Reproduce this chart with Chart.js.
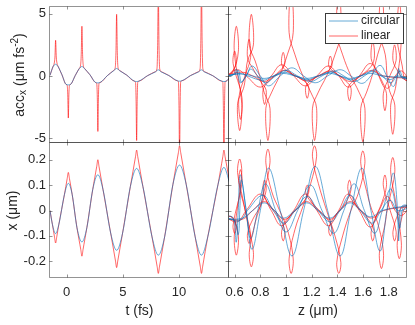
<!DOCTYPE html>
<html>
<head>
<meta charset="utf-8">
<script src="https://cdn.jsdelivr.net/npm/chart.js@4.4.1/dist/chart.umd.min.js"></script>
<style>
  html, body { margin: 0; padding: 0; background: #fff; }
  #wrap { position: relative; width: 415px; height: 325px; }
  #wrap canvas { position: absolute; left: 0; top: 0; }
</style>
</head>
<body>
<div id="wrap">
  <canvas id="accTime" width="415" height="325"></canvas>
  <canvas id="posTime" width="415" height="325"></canvas>
  <canvas id="accZ" width="415" height="325"></canvas>
  <canvas id="posZ" width="415" height="325"></canvas>
</div>
<script>
// ---- tick values ----
const tTicks = [0, 5, 10];
const zTicks = [0.6, 0.8, 1, 1.2, 1.4, 1.6, 1.8];
const accTicks = [-5, 0, 5];
const posTicks = [-0.2, -0.1, 0, 0.1, 0.2];
const legendNames = ['circular', 'linear'];

// ---- time traces [t (fs), value] ----
const posTimeCirc = [
  [-1.48, 0.000], [-1.27, -0.054], [-0.98, -0.091], [-0.69, -0.054],
  [-0.19, 0.064], [0.15, 0.107], [0.49, 0.064],
  [0.92, -0.068], [1.36, -0.124], [1.80, -0.068],
  [2.32, 0.082], [2.78, 0.141], [3.24, 0.082],
  [3.92, -0.089], [4.45, -0.157], [4.98, -0.089],
  [5.67, 0.094], [6.23, 0.166], [6.79, 0.094],
  [7.60, -0.104], [8.16, -0.176], [8.72, -0.104],
  [9.46, 0.103], [10.05, 0.179], [10.64, 0.103],
  [11.44, -0.104], [12.00, -0.176], [12.56, -0.104],
  [13.47, 0.102], [14.00, 0.170], [14.50, 0.110]
];
const posTimeLin = [
  [-1.48, 0.000], [-1.27, -0.054], [-1.08, -0.104], [-0.98, -0.128], [-0.88, -0.104], [-0.69, -0.054],
  [-0.19, 0.064], [0.05, 0.126], [0.15, 0.150], [0.25, 0.126], [0.49, 0.064],
  [0.92, -0.068], [1.26, -0.154], [1.36, -0.180], [1.46, -0.154], [1.80, -0.068],
  [2.32, 0.082], [2.68, 0.174], [2.78, 0.200], [2.88, 0.174], [3.24, 0.082],
  [3.92, -0.089], [4.35, -0.199], [4.45, -0.225], [4.55, -0.199], [4.98, -0.089],
  [5.67, 0.094], [6.13, 0.212], [6.23, 0.238], [6.33, 0.212], [6.79, 0.094],
  [7.60, -0.104], [8.06, -0.222], [8.16, -0.248], [8.26, -0.222], [8.72, -0.104],
  [9.46, 0.103], [9.95, 0.229], [10.05, 0.255], [10.15, 0.229], [10.64, 0.103],
  [11.44, -0.104], [11.90, -0.222], [12.00, -0.248], [12.10, -0.222], [12.56, -0.104],
  [13.47, 0.102], [13.90, 0.212], [14.00, 0.238], [14.10, 0.212], [14.50, 0.115]
];
const accTimeCirc = [
  [-1.48, 0.05], [-1.22, 0.72], [-0.98, 0.94], [-0.74, 0.72], [-0.42, 0.10],
  [-0.05, -0.68], [0.15, -0.72], [0.35, -0.68],
  [0.76, 0.02], [1.12, 0.58], [1.36, 0.76], [1.60, 0.58],
  [2.07, 0.10], [2.58, -0.53], [2.78, -0.56], [2.98, -0.53],
  [3.62, 0.02], [4.20, 0.43], [4.45, 0.60], [4.70, 0.43],
  [5.34, 0.07], [6.03, -0.42], [6.23, -0.45], [6.43, -0.42],
  [7.20, 0.02], [7.91, 0.33], [8.16, 0.49], [8.41, 0.33],
  [9.10, 0.03], [9.85, -0.39], [10.05, -0.42], [10.25, -0.39],
  [11.03, 0.03], [11.75, 0.33], [12.00, 0.49], [12.25, 0.33],
  [13.00, 0.02], [13.80, -0.42], [14.00, -0.45], [14.20, -0.42], [14.50, -0.15]
];
const accTimeLin = [
  [-1.48, 0.05], [-1.22, 0.74], [-1.10, 1.04], [-1.04, 1.52], [-0.98, 2.87], [-0.92, 1.52], [-0.86, 1.04], [-0.74, 0.74], [-0.42, 0.10],
  [-0.05, -0.68], [0.05, -0.77], [0.10, -1.52], [0.15, -3.39], [0.20, -1.52], [0.25, -0.77], [0.35, -0.68],
  [0.76, 0.02], [1.12, 0.60], [1.24, 0.86], [1.30, 1.73], [1.36, 4.00], [1.42, 1.73], [1.48, 0.86], [1.60, 0.60],
  [2.07, 0.10], [2.58, -0.53], [2.68, -0.61], [2.73, -1.73], [2.78, -4.47], [2.83, -1.73], [2.88, -0.61], [2.98, -0.53],
  [3.62, 0.02], [4.20, 0.45], [4.33, 0.70], [4.39, 1.91], [4.45, 4.96], [4.51, 1.91], [4.57, 0.70], [4.70, 0.45],
  [5.34, 0.07], [6.03, -0.42], [6.13, -0.50], [6.18, -1.88], [6.23, -5.20], [6.28, -1.88], [6.33, -0.50], [6.43, -0.42],
  [7.20, 0.02], [7.91, 0.35], [8.04, 0.59], [8.10, 2.44], [8.16, 7.00], [8.22, 2.44], [8.28, 0.59], [8.41, 0.35],
  [9.10, 0.03], [9.85, -0.39], [9.95, -0.47], [10.00, -2.40], [10.05, -7.00], [10.10, -2.40], [10.15, -0.47], [10.25, -0.39],
  [11.03, 0.03], [11.75, 0.35], [11.88, 0.59], [11.94, 2.60], [12.00, 7.50], [12.06, 2.60], [12.12, 0.59], [12.25, 0.35],
  [13.00, 0.02], [13.80, -0.42], [13.90, -0.50], [13.95, -2.60], [14.00, -7.50], [14.05, -2.60], [14.10, -0.50], [14.20, -0.42], [14.50, -0.15]
];

// ---- trajectories [z (um), x (um), acc_x] ----
const circA = [
  [0.540, -0.020, 0.00], [0.590, -0.030, 0.10], [0.612, -0.125, 0.55], [0.628, 0.000, 0.00], [0.644, 0.141, -0.55],
  [0.690, 0.000, 0.00], [0.735, -0.153, 0.80], [0.800, 0.000, 0.00], [0.864, 0.167, -0.80],
  [0.955, 0.000, 0.00], [1.046, -0.179, 0.65], [1.137, 0.000, 0.00], [1.227, 0.174, -0.55],
  [1.324, 0.000, 0.00], [1.421, -0.179, 0.50], [1.505, 0.000, 0.00], [1.590, 0.167, -0.60],
  [1.661, 0.000, 0.00], [1.732, -0.160, 0.85], [1.785, 0.000, 0.00], [1.835, 0.148, -0.85],
  [1.866, 0.020, 0.00], [1.877, -0.120, 0.60], [1.888, 0.000, 0.10], [1.910, 0.020, -0.20], [1.955, 0.020, -0.25]
];
const circB = [
  [0.540, -0.030, 0.00], [0.600, -0.040, 0.15], [0.628, -0.095, 0.45], [0.640, 0.000, 0.00], [0.652, 0.120, -0.50],
  [0.690, 0.000, 0.00], [0.725, -0.110, 0.55], [0.780, 0.000, 0.00], [0.840, 0.105, -0.55],
  [0.920, 0.000, 0.00], [1.000, -0.085, 0.45], [1.090, 0.000, 0.00], [1.190, 0.100, -0.45],
  [1.280, 0.000, 0.00], [1.370, -0.090, 0.40], [1.450, 0.000, 0.00], [1.530, 0.105, -0.45],
  [1.610, 0.000, 0.00], [1.690, -0.090, 0.50], [1.750, 0.000, 0.00], [1.815, 0.085, -0.55],
  [1.860, 0.000, 0.00], [1.885, -0.070, 0.40], [1.910, 0.010, -0.10], [1.955, 0.015, -0.20]
];
const circC = [
  [0.540, -0.030, 0.00], [0.640, -0.040, 0.20], [0.700, 0.000, 0.00], [0.820, 0.060, -0.35],
  [0.900, 0.000, 0.00], [0.985, -0.050, 0.30], [1.070, 0.000, 0.00], [1.165, 0.055, -0.30],
  [1.250, 0.000, 0.00], [1.345, -0.045, 0.30], [1.420, 0.000, 0.00], [1.500, 0.060, -0.30],
  [1.580, 0.000, 0.00], [1.670, -0.050, 0.35], [1.740, 0.000, 0.00], [1.810, 0.040, -0.30],
  [1.870, 0.000, 0.00], [1.955, 0.010, -0.25]
];
const circD = [
  [0.540, -0.035, 0.05], [0.660, -0.030, 0.15], [0.740, 0.000, 0.00], [0.830, 0.030, -0.20],
  [0.910, 0.000, 0.00], [0.980, -0.030, 0.20], [1.070, 0.000, 0.00], [1.160, 0.030, -0.20],
  [1.250, 0.000, 0.00], [1.340, -0.030, 0.20], [1.420, 0.000, 0.00], [1.500, 0.030, -0.20],
  [1.580, 0.000, 0.00], [1.660, -0.025, 0.20], [1.750, 0.000, 0.00], [1.955, 0.020, -0.15]
];
const linA = [
  [0.540, -0.020, 0.0], [0.585, -0.030, 0.3],
  [0.629, -0.101, 2.0], [0.613, -0.176, 4.0], [0.597, -0.101, 2.0],
  [0.655, 0.149, -2.2], [0.639, 0.203, -4.4], [0.623, 0.149, -2.2], [0.669, 0.035, -1.0],
  [0.685, -0.010, 0.0],
  [0.700, -0.048, 1.2], [0.746, -0.165, 2.5], [0.730, -0.222, 4.96], [0.714, -0.165, 2.5], [0.760, -0.048, 1.2],
  [0.795, 0.010, 0.0],
  [0.829, 0.074, -1.3], [0.875, 0.188, -2.6], [0.859, 0.242, -5.2], [0.843, 0.188, -2.6], [0.889, 0.074, -1.3],
  [0.950, 0.000, 0.0],
  [1.010, -0.074, 1.7], [1.056, -0.191, 3.5], [1.040, -0.248, 7.0], [1.024, -0.191, 3.5], [1.070, -0.074, 1.7],
  [1.131, 0.015, 0.0],
  [1.192, 0.106, -1.3], [1.238, 0.212, -2.6], [1.222, 0.255, -5.2], [1.206, 0.212, -2.6], [1.252, 0.106, -1.3],
  [1.316, 0.000, 0.0],
  [1.381, -0.100, 1.7], [1.427, -0.205, 3.5], [1.411, -0.248, 7.0], [1.395, -0.205, 3.5], [1.441, -0.100, 1.7],
  [1.505, 0.000, 0.0],
  [1.568, 0.075, -1.3], [1.614, 0.186, -2.6], [1.598, 0.235, -5.3], [1.582, 0.186, -2.6], [1.628, 0.075, -1.3],
  [1.670, 0.000, 0.0],
  [1.713, -0.048, 1.7], [1.759, -0.168, 3.5], [1.743, -0.229, 7.0], [1.727, -0.168, 3.5], [1.773, -0.048, 1.7],
  [1.787, 0.000, 0.0],
  [1.806, 0.045, -1.2], [1.847, 0.152, -2.35], [1.831, 0.209, -4.7], [1.815, 0.152, -2.35], [1.852, 0.040, -1.0],
  [1.898, -0.128, 3.0], [1.882, -0.190, 6.0], [1.866, -0.128, 3.0], [1.905, -0.020, 0.8],
  [1.925, 0.010, -0.3], [1.955, 0.010, -0.4]
];
const linB = [
  [0.540, -0.025, 0.0], [0.575, -0.025, 0.3],
  [0.612, -0.057, 1.0], [0.600, -0.090, 2.0], [0.588, -0.057, 1.0],
  [0.657, 0.109, -1.75], [0.645, 0.161, -3.5], [0.633, 0.109, -1.75],
  [0.680, 0.005, 0.0],
  [0.724, -0.092, 1.48], [0.712, -0.130, 2.95], [0.700, -0.092, 1.48],
  [0.742, -0.034, 0.6], [0.803, 0.019, -0.46],
  [0.845, 0.079, -1.15], [0.833, 0.120, -2.3], [0.821, 0.079, -1.15],
  [0.863, 0.025, -0.46], [0.948, -0.030, 0.38],
  [0.990, -0.082, 0.95], [0.978, -0.120, 1.9], [0.966, -0.082, 0.95],
  [1.008, -0.034, 0.38], [1.135, 0.034, -0.36],
  [1.177, 0.072, -0.9], [1.165, 0.100, -1.8], [1.153, 0.072, -0.9],
  [1.195, 0.034, -0.36], [1.315, -0.029, 0.32],
  [1.357, -0.070, 0.8], [1.345, -0.100, 1.6], [1.333, -0.070, 0.8],
  [1.375, -0.026, 0.32], [1.464, 0.031, -0.4],
  [1.506, 0.082, -1.0], [1.494, 0.120, -2.0], [1.482, 0.082, -1.0],
  [1.524, 0.033, -0.4], [1.645, -0.038, 0.56],
  [1.687, -0.084, 1.4], [1.675, -0.120, 2.8], [1.663, -0.084, 1.4],
  [1.700, -0.025, 0.56], [1.745, 0.030, -0.56],
  [1.782, 0.096, -1.4], [1.770, 0.140, -2.8], [1.758, 0.096, -1.4],
  [1.808, 0.005, 0.0],
  [1.857, -0.082, 1.25], [1.845, -0.120, 2.5], [1.833, -0.082, 1.25],
  [1.875, -0.010, 0.3], [1.910, 0.015, -0.2], [1.955, 0.020, -0.4]
];
const linC = [
  [0.540, -0.030, 0.0], [0.620, -0.045, 0.5], [0.690, 0.000, 0.0], [0.800, 0.065, -0.9],
  [0.885, 0.000, 0.0], [0.965, -0.060, 0.9], [1.060, 0.000, 0.0], [1.150, 0.065, -0.8],
  [1.240, 0.000, 0.0], [1.330, -0.060, 0.8], [1.410, 0.000, 0.0], [1.485, 0.065, -0.9],
  [1.570, 0.000, 0.0], [1.655, -0.065, 1.0], [1.725, 0.000, 0.0], [1.790, 0.055, -1.0],
  [1.850, 0.000, 0.0], [1.900, -0.020, 0.4], [1.955, 0.010, -0.3]
];
const linD = [
  [0.540, -0.035, 0.1], [0.660, -0.035, 0.3], [0.740, 0.000, 0.0], [0.830, 0.035, -0.45],
  [0.910, 0.000, 0.0], [0.985, -0.035, 0.45], [1.075, 0.000, 0.0], [1.160, 0.035, -0.4],
  [1.250, 0.000, 0.0], [1.340, -0.035, 0.4], [1.420, 0.000, 0.0], [1.500, 0.035, -0.45],
  [1.585, 0.000, 0.0], [1.665, -0.030, 0.45], [1.760, 0.000, 0.0], [1.955, 0.015, -0.2]
];

// ---- look ----
const W = 415, H = 325;
const FONT = '"Liberation Sans", Arial, Helvetica, sans-serif';
const INK = '#262626';
const BLUE = 'rgba(0, 114, 189, 0.6)';
const RED = 'rgba(255, 0, 0, 0.6)';
const FRAME = 'rgba(0, 0, 0, 0.42)';

// plot boxes [left, right, top, bottom]
const boxTL = [50, 229, 7, 143];
const boxBL = [50, 229, 143, 278];
const boxTR = [229, 407, 7, 143];
const boxBR = [229, 407, 143, 278];

// room reserved for tick labels (the scale box must be real, labels are clipped to it)
const yLabelRoom = 50;
const xLabelRoom = 30;

function axis(min, max, values, room, pad) {
  return {
    type: 'linear', min, max,
    grid: { display: false, drawTicks: false },
    border: { display: false },
    ticks: {
      display: room > 0, padding: pad, autoSkip: false, maxRotation: 0,
      color: INK, font: { family: FONT, size: 13 },
      callback: v => String(v)
    },
    afterBuildTicks: s => { s.ticks = values.map(v => ({ value: v })); },
    afterFit: s => {
      if (s.isHorizontal()) s.height = room; else s.width = room;
      s.paddingLeft = s.paddingRight = s.paddingTop = s.paddingBottom = 0;
    }
  };
}

function trace(rows, col, color, mode) {
  const ds = {
    data: rows.map(r => ({ x: r[0], y: r[col] })),
    borderColor: color, borderWidth: 1, pointRadius: 0, fill: false
  };
  if (mode === 'monotone') ds.cubicInterpolationMode = 'monotone';
  else ds.tension = 0.4;
  return ds;
}

function drawRich(ctx, parts, cx, cy, rot) {
  ctx.save();
  ctx.translate(cx, cy);
  ctx.rotate(rot || 0);
  ctx.fillStyle = INK;
  ctx.textBaseline = 'middle';
  ctx.textAlign = 'left';
  const widths = parts.map(p => { ctx.font = p.size + 'px ' + FONT; return ctx.measureText(p.t).width; });
  let x = -widths.reduce((a, b) => a + b, 0) / 2;
  parts.forEach((p, i) => {
    ctx.font = p.size + 'px ' + FONT;
    ctx.fillText(p.t, x, p.dy || 0);
    x += widths[i];
  });
  ctx.restore();
}

// box with inward tick marks on all four sides
const frame = {
  id: 'frame',
  afterDatasetsDraw(chart) {
    const { ctx, chartArea: a, scales: { x, y } } = chart;
    const L = Math.round(a.left) - 0.5, R = Math.round(a.right) - 0.5;
    const T = Math.round(a.top) - 0.5, B = Math.round(a.bottom) - 0.5;
    const len = 3;
    ctx.save();
    ctx.strokeStyle = FRAME;
    ctx.lineWidth = 1;
    ctx.beginPath();
    ctx.rect(L, T, R - L, B - T);
    x.ticks.forEach(tk => {
      const px = Math.round(x.getPixelForValue(tk.value)) + 0.5;
      ctx.moveTo(px, T); ctx.lineTo(px, T + len);
      ctx.moveTo(px, B); ctx.lineTo(px, B - len);
    });
    y.ticks.forEach(tk => {
      const py = Math.round(y.getPixelForValue(tk.value)) + 0.5;
      ctx.moveTo(L, py); ctx.lineTo(L + len, py);
      ctx.moveTo(R, py); ctx.lineTo(R - len, py);
    });
    ctx.stroke();
    ctx.restore();
  }
};

function notes(texts, key) {
  return {
    id: 'notes',
    afterDraw(chart) {
      const ctx = chart.ctx;
      texts.forEach(t => drawRich(ctx, t.parts, t.x, t.y, t.rot));
      if (!key) return;
      ctx.save();
      ctx.fillStyle = '#fff';
      ctx.fillRect(key.x, key.y, key.w, key.h);
      ctx.strokeStyle = '#3a3a3a';
      ctx.lineWidth = 1;
      ctx.strokeRect(key.x + 0.5, key.y + 0.5, key.w, key.h);
      ctx.font = '12px ' + FONT;
      ctx.textBaseline = 'middle';
      ctx.textAlign = 'left';
      key.names.forEach((name, i) => {
        const yy = key.y + 8 + i * 15;
        ctx.strokeStyle = key.colors[i];
        ctx.beginPath();
        ctx.moveTo(key.x + 4, yy); ctx.lineTo(key.x + 33, yy);
        ctx.stroke();
        ctx.fillStyle = INK;
        ctx.fillText(name, key.x + 36, yy);
      });
      ctx.restore();
    }
  };
}

function panel(id, box, xAxis, yAxis, xRoom, yRoom, datasets, extra) {
  return new Chart(document.getElementById(id), {
    type: 'line',
    data: { datasets },
    options: {
      responsive: false, animation: false, devicePixelRatio: 1, events: [],
      layout: { padding: { left: box[0] - yRoom, right: W - box[1], top: box[2], bottom: H - box[3] - xRoom } },
      elements: { point: { radius: 0 }, line: { borderWidth: 1, capBezierPoints: false } },
      scales: { x: xAxis, y: yAxis },
      plugins: { legend: { display: false }, tooltip: { enabled: false } }
    },
    plugins: [frame, extra]
  });
}

const tRange = [-1.48, 14.45];
const zRange = [0.556, 1.942];
const accRange = [-5.4, 5.55];
const posRange = [-0.266, 0.266];

panel('accTime', boxTL,
  axis(tRange[0], tRange[1], tTicks, 0, 7),
  axis(accRange[0], accRange[1], accTicks, yLabelRoom, 4),
  0, yLabelRoom,
  [trace(accTimeCirc, 1, BLUE, 'monotone'), trace(accTimeLin, 1, RED, 'monotone')],
  notes([{ parts: [
    { t: 'acc', size: 14 }, { t: 'x', size: 10, dy: 3.5 }, { t: ' (μm fs', size: 14 },
    { t: '-2', size: 10, dy: -5 }, { t: ')', size: 14 }
  ], x: 20, y: 75, rot: -Math.PI / 2 }]));

panel('posTime', boxBL,
  axis(tRange[0], tRange[1], tTicks, xLabelRoom, 7),
  axis(posRange[0], posRange[1], posTicks, yLabelRoom, 4),
  xLabelRoom, yLabelRoom,
  [trace(posTimeCirc, 1, BLUE, 'monotone'), trace(posTimeLin, 1, RED, 'monotone')],
  notes([
    { parts: [{ t: 'x (μm)', size: 14 }], x: 13, y: 210.5, rot: -Math.PI / 2 },
    { parts: [{ t: 't (fs)', size: 14 }], x: 139.5, y: 311 }
  ]));

const circRuns = [circA, circB, circC, circD];
const linRuns = [linA, linB, linC, linD];

panel('accZ', boxTR,
  axis(zRange[0], zRange[1], zTicks, 0, 7),
  axis(accRange[0], accRange[1], accTicks, 0, 4),
  0, 0,
  [...circRuns.map(r => trace(r, 2, BLUE)), ...linRuns.map(r => trace(r, 2, RED))],
  notes([], { x: 325, y: 13, w: 78, h: 30, names: legendNames, colors: [BLUE, RED] }));

panel('posZ', boxBR,
  axis(zRange[0], zRange[1], zTicks, xLabelRoom, 7),
  axis(posRange[0], posRange[1], posTicks, 0, 4),
  xLabelRoom, 0,
  [...circRuns.map(r => trace(r, 1, BLUE)), ...linRuns.map(r => trace(r, 1, RED))],
  notes([{ parts: [{ t: 'z (μm)', size: 14 }], x: 318, y: 311.5 }]));
</script>
</body>
</html>
